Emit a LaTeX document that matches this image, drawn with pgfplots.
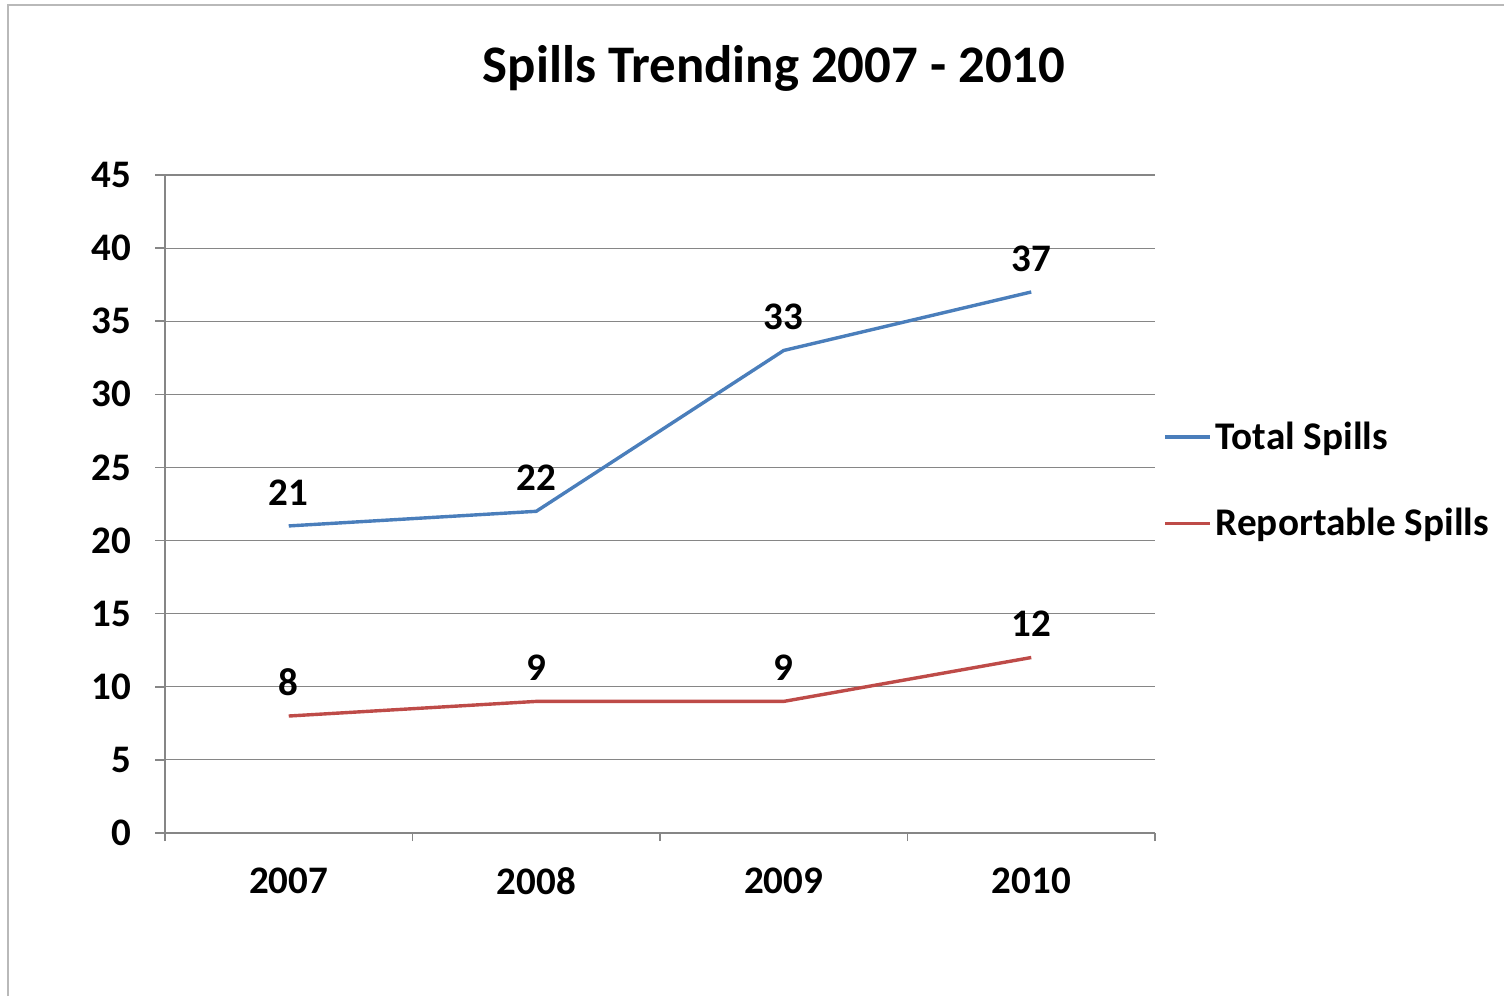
\documentclass[border=0pt]{standalone}
\usepackage{pgfplots}
\pgfplotsset{compat=1.18}
\usepackage{fontspec}
\setmainfont{Carlito}
\definecolor{sblue}{HTML}{4A7EBB}
\definecolor{sred}{HTML}{BE4B48}
\definecolor{sgrid}{HTML}{868686}
\begin{document}
\begin{tikzpicture}
\useasboundingbox (0,0) rectangle (752pt,498pt);
\draw[gray!55, line width=0.6pt] (4pt,0) -- (4pt,495.5pt) -- (752pt,495.5pt);
\node[anchor=base, font=\bfseries\fontsize{26.4}{30}\selectfont] at (387pt,456.5pt) {Spills Trending 2007 - 2010};
\begin{axis}[
  at={(82.5pt,81.5pt)}, anchor=south west,
  scale only axis, width=495pt, height=329pt,
  xmin=2006.5, xmax=2010.5, ymin=0, ymax=45,
  xtick={2007,2008,2009,2010},
  minor xtick={2006.5,2007.5,2008.5,2009.5,2010.5},
  ytick={0,5,...,45},
  axis x line*=bottom, axis y line*=left,
  axis line style={sgrid, line width=0.8pt},
  tick align=outside,
  major x tick style={draw=none},
  minor tick style={sgrid, line width=0.8pt},
  minor tick length=4pt,
  major tick length=5pt,
  ytick style={sgrid, line width=0.8pt},
  ymajorgrids, grid style={sgrid, line width=0.6pt},
  /pgf/number format/.cd, 1000 sep={}, assume math mode=true, /pgfplots/.cd,
  ticklabel style={font=\bfseries\fontsize{19.5}{22}\selectfont},
  xticklabel style={yshift=-9pt},
  yticklabel style={xshift=-8.5pt},
  nodes near coords,
  every node near coord/.append style={font=\bfseries\fontsize{19.5}{22}\selectfont, inner sep=0pt, yshift=9.5pt, black},
  legend style={at={(rel axis cs:1.008,0.536)}, anchor=west, draw=none, fill=none,
    font=\bfseries\fontsize{19.6}{23}\selectfont, row sep=24pt, inner sep=0pt,
    legend cell align=left},
  legend image code/.code={\draw[#1] (0pt,0pt) -- (22.5pt,0pt);},
  clip=false,
]
\addplot[sblue, line width=1.7pt] coordinates {(2007,21) (2008,22) (2009,33) (2010,37)};
\addlegendentry{Total Spills}
\addplot[sred, line width=1.7pt] coordinates {(2007,8) (2008,9) (2009,9) (2010,12)};
\addlegendentry{Reportable Spills}
\end{axis}
\end{tikzpicture}
\end{document}
